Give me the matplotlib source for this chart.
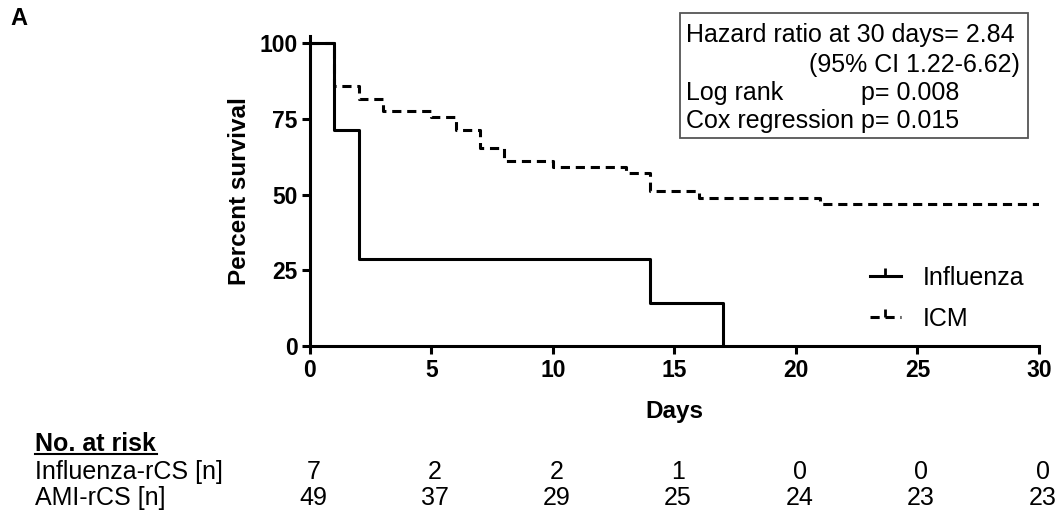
"""Kaplan-Meier style survival chart: Influenza vs ICM."""
import matplotlib
matplotlib.use("Agg")
import matplotlib.pyplot as plt
import matplotlib.transforms as mtransforms
from matplotlib.lines import Line2D
from matplotlib.patches import Rectangle

plt.rcParams["font.family"] = ["Liberation Sans", "DejaVu Sans"]

# survival curves (days, percent survival)
flu_days = [0, 1, 2, 14, 17]
flu_surv = [100, 71.4, 28.6, 14.3, 0]
icm_days = [0, 1, 2, 3, 5, 6, 7, 8, 10, 13, 14, 16, 21, 30]
icm_surv = [100, 85.7, 81.6, 77.6, 75.5, 71.4, 65.3, 61.2, 59.2, 57.1, 51.0, 49.0, 46.9, 46.9]

# number at risk table
risk_days = [0, 5, 10, 15, 20, 25, 30]
flu_risk = [7, 2, 2, 1, 0, 0, 0]
ami_risk = [49, 37, 29, 25, 24, 23, 23]

FS = 18
DASH = (0, (3.0, 1.9))

fig = plt.figure(figsize=(10.63, 5.19), dpi=100)
ax = fig.add_axes([0.2916, 0.3333, 0.6858, 0.5973])

ax.step(flu_days, flu_surv, where="post", color="black", linewidth=2.2)
ax.step(icm_days, icm_surv, where="post", color="black", linewidth=2.2, linestyle=DASH)

ax.set_xlim(0, 30)
ax.set_ylim(0, 102.3)
ax.set_xticks(range(0, 31, 5))
ax.set_yticks([0, 25, 50, 75, 100])
for side in ("top", "right"):
    ax.spines[side].set_visible(False)
for side in ("left", "bottom"):
    ax.spines[side].set_linewidth(2.2)
ax.tick_params(direction="out", length=6, width=2.2, labelsize=16.5, pad=3)
for lab in ax.get_xticklabels() + ax.get_yticklabels():
    lab.set_fontweight("bold")
ax.set_xlabel("Days", fontsize=17.5, fontweight="bold", labelpad=13)
ax.set_ylabel("Percent survival", fontsize=17.5, fontweight="bold", labelpad=6)

# legend with censor tick marks
handles = [
    Line2D([0], [0], color="black", linewidth=2.2, marker=2, markersize=6, markeredgewidth=2),
    Line2D([0], [0], color="black", linewidth=2.2, linestyle=DASH,
           marker=2, markersize=6, markeredgewidth=2),
]
ax.legend(handles, ["Influenza", "ICM"], loc="lower right", bbox_to_anchor=(1.0, 0.0),
          frameon=False, fontsize=FS, handlelength=1.25, handletextpad=0.85,
          labelspacing=0.68, borderaxespad=0.2)

# stats box
fig.add_artist(Rectangle((0.6397, 0.734), 0.3274, 0.241, transform=fig.transFigure,
                         facecolor="white", edgecolor="#555555", linewidth=1.3))
fig.text(0.6454, 0.9326, "Hazard ratio at 30 days= 2.84", fontsize=FS, va="center")
fig.text(0.9596, 0.8748, "(95% CI 1.22-6.62)", fontsize=FS, va="center", ha="right")
fig.text(0.6454, 0.8208, "Log rank", fontsize=FS, va="center")
fig.text(0.810, 0.8208, "p= 0.008", fontsize=FS, va="center")
fig.text(0.6454, 0.7669, "Cox regression p= 0.015", fontsize=FS, va="center")

fig.text(0.010, 0.964, "A", fontsize=17, fontweight="bold", va="center")

# number at risk table
fig.text(0.033, 0.145, "No. at risk", fontsize=FS, fontweight="bold", va="center")
fig.add_artist(Line2D([0.033, 0.148], [0.125, 0.125], color="black", linewidth=1.5))
fig.text(0.033, 0.091, "Influenza-rCS [n]", fontsize=FS, va="center")
fig.text(0.033, 0.040, "AMI-rCS [n]", fontsize=FS, va="center")
trans = mtransforms.blended_transform_factory(ax.transData, fig.transFigure)
for d, a, b in zip(risk_days, flu_risk, ami_risk):
    ax.text(d + 0.15, 0.091, str(a), transform=trans, fontsize=FS, ha="center",
            va="center", clip_on=False)
    ax.text(d + 0.15, 0.040, str(b), transform=trans, fontsize=FS, ha="center",
            va="center", clip_on=False)

fig.savefig("out.png", dpi=100)
